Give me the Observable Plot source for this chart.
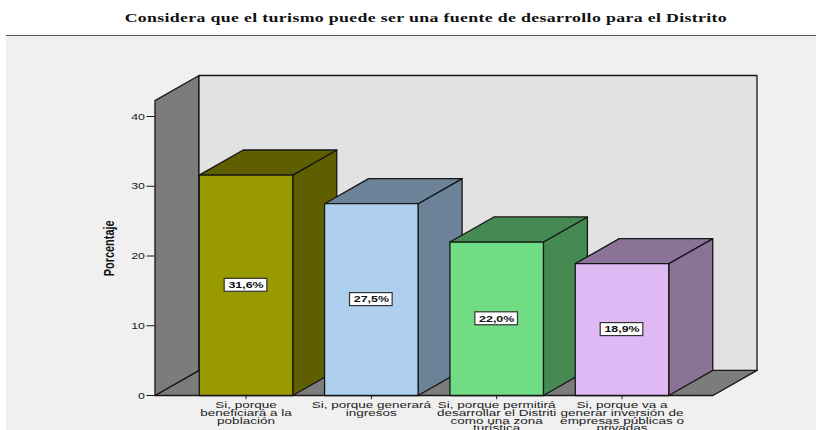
<!DOCTYPE html>
<html lang="es">
<head>
<meta charset="utf-8">
<script src="https://cdn.jsdelivr.net/npm/d3@7"></script>
<script src="https://cdn.jsdelivr.net/npm/@observablehq/plot@0.6"></script>
<style>
html,body{margin:0;padding:0;background:#fff;overflow:hidden;width:816px;height:430px}
#title{height:35px;box-sizing:border-box;padding-top:11px;padding-left:35px;text-align:center;font:bold 12px "Liberation Serif",serif;color:#111;white-space:nowrap}
#title span{display:inline-block;transform:scale(1.485,1);transform-origin:center;letter-spacing:.22px}
#panel{margin-left:6px;height:395px;background:#f0f0f0;border-top:1px solid #555;overflow:hidden}
</style>
</head>
<body>
<div id="title"><span>Considera que el turismo puede ser una fuente de desarrollo para el Distrito</span></div>
<div id="panel"></div>
<script>
const categories = [
  "Si, porque\nbeneficiará a la\npoblación",
  "Si, porque generará\ningresos",
  "Si, porque permitirá\ndesarrollar el Distriti\ncomo una zona\nturística",
  "Si, porque va a\ngenerar inversión de\nempresas públicas o\nprivadas"
];
const values = [31.6, 27.5, 22.0, 18.9];
const valueLabels = ["31,6%", "27,5%", "22,0%", "18,9%"];
const frontColors = ["#999900", "#aed0ee", "#70dd84", "#dfb9f3"];
const sideColors = ["#5f5f00", "#6c8298", "#458a53", "#8b7398"];
const yTicks = [0, 10, 20, 30, 40];
const yLabel = "Porcentaje";

const halfBar = 0.373, depthX = 0.351, depthY = 3.6;
const wallLeft = -0.726, wallRight = 3.726, wallTop = 42.28;
const ink = "#161616";

const faces = [];
const face = (id, c, pts) => [...pts, pts[0]].forEach(([x, y]) => faces.push({id, c, x, y}));
face("floor", "#7c7c7c", [[wallLeft, 0], [wallLeft + depthX, depthY], [wallRight + depthX, depthY], [wallRight, 0]]);
face("left", "#7c7c7c", [[wallLeft, 0], [wallLeft + depthX, depthY], [wallLeft + depthX, wallTop + depthY], [wallLeft, wallTop]]);
face("back", "#e2e2e2", [[wallLeft + depthX, depthY], [wallRight + depthX, depthY], [wallRight + depthX, wallTop + depthY], [wallLeft + depthX, wallTop + depthY]]);
values.forEach((v, i) => {
  const l = i - halfBar, r = i + halfBar;
  face(`side${i}`, sideColors[i], [[r, 0], [r + depthX, depthY], [r + depthX, v + depthY], [r, v]]);
  face(`top${i}`, sideColors[i], [[l, v], [l + depthX, v + depthY], [r + depthX, v + depthY], [r, v]]);
  face(`front${i}`, frontColors[i], [[l, 0], [r, 0], [r, v], [l, v]]);
});
const bars = values.map((v, i) => ({i, v, label: valueLabels[i]}));

const widen = (k) => (index, scales, channels, dims, ctx, next) => {
  const g = next(index, scales, channels, dims, ctx);
  d3.select(g).selectAll("text").attr("transform", function () {
    return `${this.getAttribute("transform") || ""} scale(${k},1)`;
  });
  return g;
};

const plot = Plot.plot({
  width: 810, height: 394,
  marginLeft: 148.5, marginRight: 59.5, marginTop: 39, marginBottom: 35,
  style: {background: "transparent", fontFamily: "'Liberation Sans',Arial,sans-serif", fontSize: "9px", color: "#222"},
  x: {domain: [wallLeft, wallRight + depthX], axis: null},
  y: {domain: [0, wallTop + depthY], axis: null},
  color: {type: "identity"},
  marks: [
    Plot.line(faces, {x: "x", y: "y", z: "id", fill: "c", stroke: ink, strokeWidth: 1.3}),
    Plot.rect(bars, {x1: d => d.i - 0.17, x2: d => d.i + 0.17, y1: d => d.v / 2 - 0.93, y2: d => d.v / 2 + 0.93,
      fill: "#fff", stroke: "#333", strokeWidth: 1.2}),
    Plot.text(bars, {x: "i", y: d => d.v / 2, text: "label", fontWeight: "bold", fontSize: 9, fill: "#111", render: widen(1.38)}),
    Plot.ruleY(yTicks, {x1: wallLeft - 0.064, x2: wallLeft, stroke: ink, strokeWidth: 1}),
    Plot.text(yTicks, {x: wallLeft - 0.064, y: d => d, text: d => String(d), textAnchor: "end", dx: -2, fontSize: 9.5, fill: "#222", render: widen(1.3)}),
    Plot.ruleX(categories.map((c, i) => i), {y1: 0, y2: -0.6, stroke: ink, strokeWidth: 1, clip: false}),
    Plot.text(categories, {x: (c, i) => i, y: 0, text: d => d, lineAnchor: "top", dy: 7.5, lineHeight: 0.85, fontSize: 9, fill: "#222", render: widen(1.5)}),
    Plot.text([yLabel], {x: wallLeft - 0.36, y: 21.1, text: d => d, rotate: -90, fontSize: 14, fontWeight: "bold", fill: "#111", render: widen(0.78)})
  ]
});
document.getElementById("panel").append(plot);
</script>
</body>
</html>
